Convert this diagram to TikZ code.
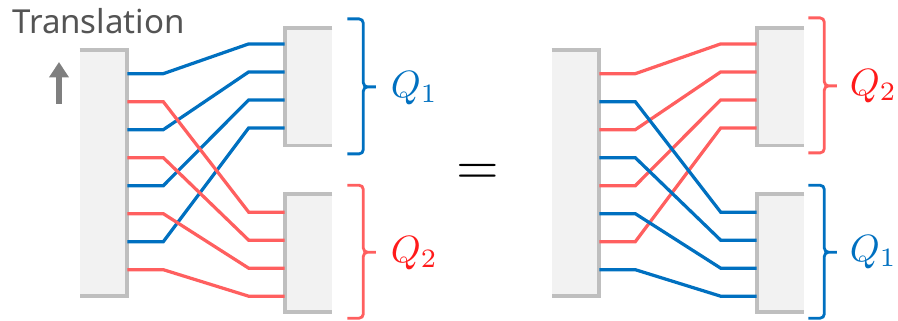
\documentclass[tikz,border=0pt]{standalone}
\usepackage{fontspec}
\setsansfont{Noto Sans}
\usetikzlibrary{calc,positioning,arrows.meta}

\definecolor{qblue}{HTML}{0070C0}
\definecolor{qred}{HTML}{FF5F5F}
\definecolor{qredtext}{HTML}{FF1A1A}
\definecolor{boxfill}{HTML}{F2F2F2}
\definecolor{boxline}{HTML}{BFBFBF}
\definecolor{arrowgray}{HTML}{7F7F7F}

\begin{document}
\begin{tikzpicture}[x=0.025cm, y=-0.025cm,
    block/.style={rectangle, fill=boxfill, inner sep=0pt, minimum width=1.175cm},
    srcblock/.style={block, minimum height=6.15cm},
    dstblock/.style={block, minimum height=2.925cm},
    edge/.style={draw=boxline, line width=2.8pt},
    wire/.style={line width=2.3pt},
    brace/.style={line width=2pt, rounded corners=3pt},
    qlabel/.style={scale=2.7, inner sep=0pt, anchor=west}]
    \useasboundingbox (0,0) rectangle (898,321);

    % left side
    \node[font=\sffamily\fontsize{23.5}{23.5}\selectfont, text=black!67, anchor=base west, inner sep=0pt] (trans) at (12,34) {Translation};
    \coordinate (arrfrom) at (59,104);
    \coordinate (arrto) at (59,62);
    \draw[arrowgray, line width=4.2pt, -{Triangle[width=13.5pt, length=11pt]}] (arrfrom) -- (arrto);

    \node[srcblock] (srcA) at (103.5,173) {};
    \node[dstblock] (topA) at (308.5,86.7) {};
    \node[dstblock] (botA) at (308.5,253) {};
    \draw[edge] (srcA.north west) -- (srcA.north east) -- (srcA.south east) -- (srcA.south west);
    \draw[edge] (topA.north east) -- (topA.north west) -- (topA.south west) -- (topA.south east);
    \draw[edge] (botA.north east) -- (botA.north west) -- (botA.south west) -- (botA.south east);

    \foreach \i in {1,...,8}
        \coordinate (sA\i) at ($(srcA.north east)+(0,24+28*\i-28)$);
    \foreach \k in {1,...,4} {
        \coordinate (tA\k) at ($(topA.north west)+(0,16+28*\k-28)$);
        \coordinate (bA\k) at ($(botA.north west)+(0,18+28*\k-28)$);
    }
    \foreach \k [evaluate=\k as \s using int(2*\k-1)] in {1,...,4}
        \draw[wire, qblue] (sA\s) -- ++(36,0) -- ($(tA\k)+(-36,0)$) -- (tA\k);
    \foreach \k [evaluate=\k as \s using int(2*\k)] in {1,...,4}
        \draw[wire, qred] (sA\s) -- ++(36,0) -- ($(bA\k)+(-36,0)$) -- (bA\k);

    \draw[brace, qblue] ($(topA.north east)+(15,-9)$) -- ++(16,0) -- ++(0,68) -- ++(15,0) -- ++(-15,0) -- ++(0,67) -- ++(-16,0);
    \draw[brace, qred] ($(botA.north east)+(15,-9)$) -- ++(16,0) -- ++(0,67) -- ++(15,0) -- ++(-15,0) -- ++(0,66) -- ++(-16,0);
    \node[qlabel, text=qblue] (qA1) at (390,88) {$Q_1$};
    \node[qlabel, text=qredtext] (qA2) at (390,253) {$Q_2$};

    % equals
    \node[scale=3.9, inner sep=0pt] (eq) at (477.5,174) {$=$};

    % right side
    \begin{scope}[xshift=472*0.025cm]
    \node[srcblock] (srcB) at (103.5,173) {};
    \node[dstblock] (topB) at (308.5,86.7) {};
    \node[dstblock] (botB) at (308.5,253) {};
    \draw[edge] (srcB.north west) -- (srcB.north east) -- (srcB.south east) -- (srcB.south west);
    \draw[edge] (topB.north east) -- (topB.north west) -- (topB.south west) -- (topB.south east);
    \draw[edge] (botB.north east) -- (botB.north west) -- (botB.south west) -- (botB.south east);

    \foreach \i in {1,...,8}
        \coordinate (sB\i) at ($(srcB.north east)+(0,24+28*\i-28)$);
    \foreach \k in {1,...,4} {
        \coordinate (tB\k) at ($(topB.north west)+(0,16+28*\k-28)$);
        \coordinate (bB\k) at ($(botB.north west)+(0,18+28*\k-28)$);
    }
    \foreach \k [evaluate=\k as \s using int(2*\k-1)] in {1,...,4}
        \draw[wire, qred] (sB\s) -- ++(36,0) -- ($(tB\k)+(-36,0)$) -- (tB\k);
    \foreach \k [evaluate=\k as \s using int(2*\k)] in {1,...,4}
        \draw[wire, qblue] (sB\s) -- ++(36,0) -- ($(bB\k)+(-36,0)$) -- (bB\k);

    \draw[brace, qred] ($(topB.north east)+(4,-10)$) -- ++(16,0) -- ++(0,68) -- ++(15,0) -- ++(-15,0) -- ++(0,67) -- ++(-16,0);
    \draw[brace, qblue] ($(botB.north east)+(4,-9)$) -- ++(16,0) -- ++(0,67) -- ++(15,0) -- ++(-15,0) -- ++(0,66) -- ++(-16,0);
    \node[qlabel, text=qredtext] (qB2) at (377,86) {$Q_2$};
    \node[qlabel, text=qblue] (qB1) at (377,252) {$Q_1$};
    \end{scope}
\end{tikzpicture}
\end{document}
